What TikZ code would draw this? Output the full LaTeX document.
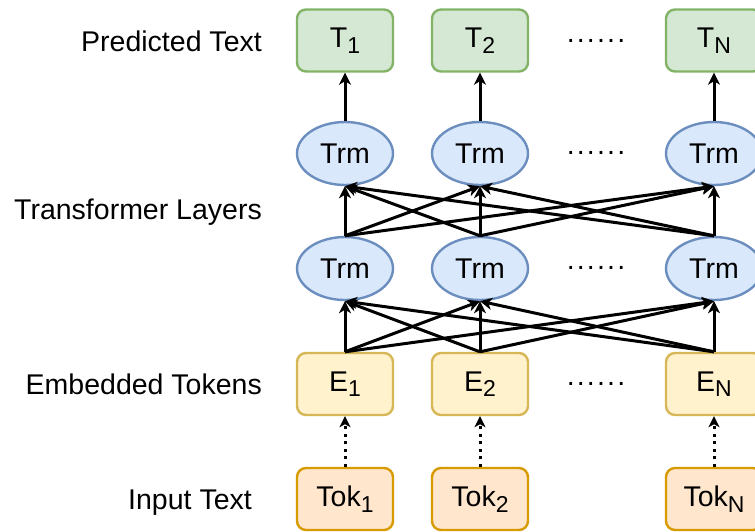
\documentclass[tikz,border=0pt]{standalone}
\usepackage{fontspec}
\setmainfont{Liberation Sans}
\usetikzlibrary{arrows.meta,shapes.geometric}
\definecolor{grfill}{HTML}{D5E8D4}\definecolor{grline}{HTML}{82B366}
\definecolor{blfill}{HTML}{DAE8FC}\definecolor{blline}{HTML}{6C8EBF}
\definecolor{yefill}{HTML}{FFF2CC}\definecolor{yeline}{HTML}{D6B656}
\definecolor{orfill}{HTML}{FFE6CC}\definecolor{orline}{HTML}{D79B00}
% lowered, smaller index after a letter
\newcommand\lowidx[1]{\raisebox{-5.5pt}{\fontsize{23}{23}\selectfont #1}}
\begin{document}
\begin{tikzpicture}[x=1pt,y=-1pt,
  txt/.style={font=\fontsize{28.5}{33}\selectfont, inner sep=0pt},
  cell/.style={txt, rounded corners=9pt, line width=2.4pt, minimum width=96pt, minimum height=62pt},
  outbox/.style={cell, draw=grline, fill=grfill},
  embbox/.style={cell, draw=yeline, fill=yefill},
  tokbox/.style={cell, draw=orline, fill=orfill},
  trm/.style={txt, ellipse, draw=blline, fill=blfill, line width=2.4pt, minimum width=96pt, minimum height=63pt},
  arr/.style={line width=3pt, -{Stealth[length=12pt,width=12pt,inset=3.5pt]}},
  dotarr/.style={line width=3pt, dash pattern=on 3pt off 4.5pt, -{Stealth[length=11pt,width=11pt,inset=3pt]}},
  lab/.style={txt, anchor=base east},
  ell/.style={txt}
]
\useasboundingbox (0,0) rectangle (755,531);

% side labels
\node[lab] (lpred) at (262,51) {Predicted Text};
\node[lab] (ltrans) at (262,219) {Transformer Layers};
\node[lab] (lemb) at (262,394) {Embedded Tokens};
\node[lab] (linput) at (252,509) {Input Text};

% output tokens
\node[outbox] (p1) at (345,40.5) {T\lowidx{1}};
\node[outbox] (p2) at (480,40.5) {T\lowidx{2}};
\node[outbox] (p3) at (714,40.5) {T\lowidx{N}};

% upper transformer layer
\node[trm] (u1) at (345,153.5) {Trm};
\node[trm] (u2) at (480,153.5) {Trm};
\node[trm] (u3) at (714,153.5) {Trm};

% lower transformer layer
\node[trm] (l1) at (345,268.5) {Trm};
\node[trm] (l2) at (480,268.5) {Trm};
\node[trm] (l3) at (714,268.5) {Trm};

% embeddings
\node[embbox] (e1) at (345,384) {E\lowidx{1}};
\node[embbox] (e2) at (480,384) {E\lowidx{2}};
\node[embbox] (e3) at (714,384) {E\lowidx{N}};

% input tokens
\node[tokbox] (k1) at (345,499) {Tok\lowidx{1}};
\node[tokbox] (k2) at (480,499) {Tok\lowidx{2}};
\node[tokbox] (k3) at (714,499) {Tok\lowidx{N}};

% ellipses between columns
\foreach \y/\n in {41/d1,153/d2,268/d3,384/d4}
  \node[ell] (\n) at (596,\y) {.\kern2.2pt.\kern2.2pt.\kern2.2pt.\kern2.2pt.\kern2.2pt.};

% connections
\foreach \i in {1,2,3}{
  \draw[arr] (u\i.north) -- (p\i.south);
  \draw[dotarr] (k\i.north) -- (e\i.south);
  \foreach \j in {1,2,3}{
    \draw[arr] (l\i.north) -- (u\j.south);
    \draw[arr] (e\i.north) -- (l\j.south);
  }
}
\end{tikzpicture}
\end{document}
